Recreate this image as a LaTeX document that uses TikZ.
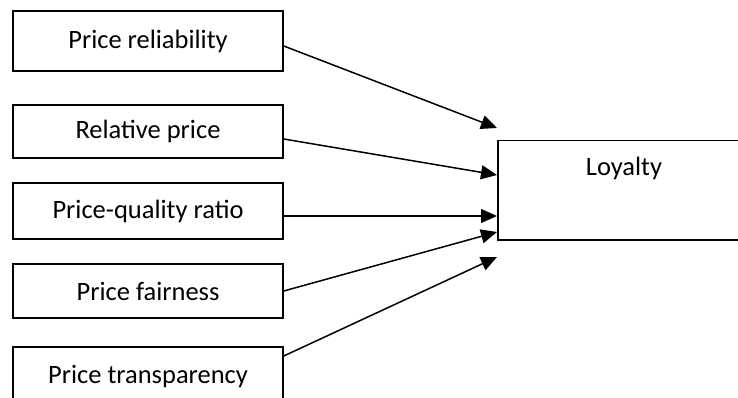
\documentclass[tikz,border=0pt]{standalone}
\usepackage{fontspec}
\setmainfont{Carlito}
\usetikzlibrary{arrows.meta}
\tikzset{
  factor/.style={draw, line width=1.5pt, minimum width=270pt, inner sep=0pt, font=\fontsize{26.5}{30}\selectfont},
  lbl/.style={inner sep=0pt, font=\fontsize{26.5}{30}\selectfont},
  arr/.style={-{Triangle[length=16pt,width=14pt]}, line width=1.5pt}
}
\begin{document}
\begin{tikzpicture}[x=1pt,y=-1pt]
\useasboundingbox (0,0) rectangle (738,398);
\clip (0,0) rectangle (738,398);
% drivers on the left
\node[factor, minimum height=60pt] (rel) at (148,41) {Price reliability};
\node[factor, minimum height=53pt] (relp) at (148,131.5) {Relative price};
\node[factor, minimum height=56pt] (pqr) at (148,211) {Price-quality ratio};
\node[factor, minimum height=54pt] (fair) at (148,291) {Price fairness};
\node[factor, minimum height=60pt] (transp) at (148,377) {Price transparency};
% outcome
\node[factor, minimum width=254pt, minimum height=99pt, anchor=north west] (loyal) at (497,140) {};
\node[lbl] (loyaltxt) at (624,168) {Loyalty};
\coordinate (e1) at (497,128);
\coordinate (e2) at (497,175);
\coordinate (e3) at (497,216);
\coordinate (e4) at (497,232);
\coordinate (e5) at (497,257);
\draw[arr] ([yshift=-5pt]rel.east) -- (e1);
\draw[arr] ([yshift=-7.5pt]relp.east) -- (e2);
\draw[arr] ([yshift=-5pt]pqr.east) -- (e3);
\draw[arr] (fair.east) -- (e4);
\draw[arr] ([yshift=21pt]transp.east) -- (e5);
\end{tikzpicture}
\end{document}
